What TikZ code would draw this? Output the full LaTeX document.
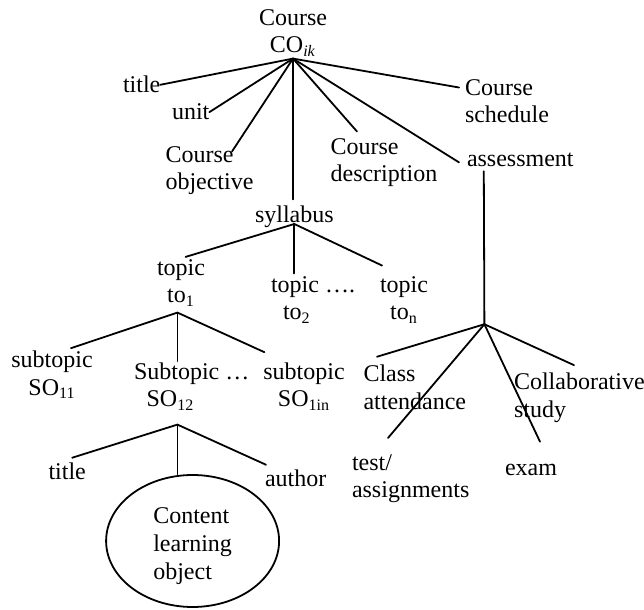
\documentclass[tikz,border=0pt]{standalone}
\usepackage{fontspec}
\setmainfont{Liberation Serif}
\usetikzlibrary{shapes.geometric,calc}
\begin{document}
\begin{tikzpicture}[x=0.5pt,y=-0.5pt,
  lbl/.style={inner sep=0pt,outer sep=0pt,font=\fontsize{12pt}{13.8pt}\selectfont,anchor=base west,align=left},
  clbl/.style={lbl,anchor=base,align=center},
  conn/.style={line width=0.9pt,line cap=round}]
\useasboundingbox (0,0) rectangle (644,610);
% text nodes (for two-line texts the given y is the baseline of the last line)
\node[clbl] (co) at (293,53) {Course\\CO\textsubscript{\textit{ik}}};
\node[lbl] (title1) at (123,93) {title};
\node[lbl] (unit) at (172,120) {unit};
\node[lbl] (cobj) at (165.5,190) {Course\\objective};
\node[lbl] (cdesc) at (330.6,182) {Course\\description};
\node[lbl] (csched) at (465,123) {Course\\schedule};
\node[lbl] (assess) at (467,167) {assessment};
\node[lbl] (syll) at (255,223) {syllabus};
\node[clbl] (topic1) at (181,303) {topic\\to\textsubscript{1}};
\node[lbl] (topic2) at (271,320) {topic ….\\\hspace*{6pt}to\textsubscript{2}};
\node[clbl] (topicn) at (404,320) {topic\\to\textsubscript{n}};
\node[clbl] (sub1) at (52,395) {subtopic\\SO\textsubscript{11}};
\node[lbl] (sub2) at (134,407) {Subtopic …\\\hspace*{6.3pt}SO\textsubscript{12}};
\node[clbl] (subn) at (304,407) {subtopic\\SO\textsubscript{1in}};
\node[lbl] (title2) at (48.5,480) {title};
\node[lbl] (author) at (265,487) {author};
\node[ellipse,draw,line width=0.9pt,minimum width=86.5pt,minimum height=66pt,inner sep=0pt,align=left,font=\fontsize{12pt}{13.8pt}\selectfont] (clo) at (192.6,541) {\rule{0pt}{13pt}Content\\learning\hspace*{9pt}\\object};
\node[lbl] (class) at (363.5,409) {Class\\attendance};
\node[lbl] (collab) at (514,417) {Collaborative\\study};
\node[lbl] (test) at (352,498) {test/\\assignments};
\node[lbl] (exam) at (505,476) {exam};
% hubs
\coordinate (h0) at ($(co.south)+(0,2)$);
\coordinate (h1) at ($(syll.base)+(0,1)$);
\coordinate (h2) at ($(topic1.south)+(-3.6,6)$);
\coordinate (h3) at ($(h2)+(0,112)$);
\coordinate (h4) at ($(assess.south west)+(17.4,157)$);
% connectors from the course
\draw[conn] (h0) -- (title1.east);
\draw[conn] (h0) -- (unit.east);
\draw[conn] (h0) -- ($(cobj.north west)+(66.5,5)$);
\draw[conn] (h0) -- ($(h0 |- syll.north)+(0,-7)$);
\draw[conn] (h0) -- ($(cdesc.north west)+(26.4,-7)$);
\draw[conn] (h0) -- ($(assess.west)+(-8,2)$);
\draw[conn] (h0) -- ($(csched.north west)+(-6,8)$);
% syllabus
\draw[conn] (h1) -- ($(topic1.north)+(4.6,-2.6)$);
\draw[conn] (h1) -- ($(h1 |- topic2.north)+(0,-3)$);
\draw[conn] (h1) -- ($(topicn.north west)+(2,-11)$);
% topic 1
\draw[conn] (h2) -- ($(sub1.north)+(19,-2.6)$);
\draw[conn] (h2) -- ($(h2 |- sub2.north)+(0,-1.6)$);
\draw[conn] (h2) -- ($(subn.north west)+(1,-10.6)$);
% subtopic 2
\draw[conn] (h3) -- ($(title2.north)+(5,-5.6)$);
\draw[conn] (h3) -- (h3 |- clo.north);
\draw[conn] (h3) -- ($(author.north west)+(1,-5.6)$);
% assessment
\draw[conn] ($(assess.south west)+(16.8,4)$) -- (h4);
\draw[conn] (h4) -- ($(class.north west)+(13.5,-8)$);
\draw[conn] (h4) -- ($(collab.north west)+(60,-7.6)$);
\draw[conn] (h4) -- ($(test.north west)+(36,-16.6)$);
\draw[conn] (h4) -- ($(exam.north west)+(35,-23)$);
\end{tikzpicture}
\end{document}
